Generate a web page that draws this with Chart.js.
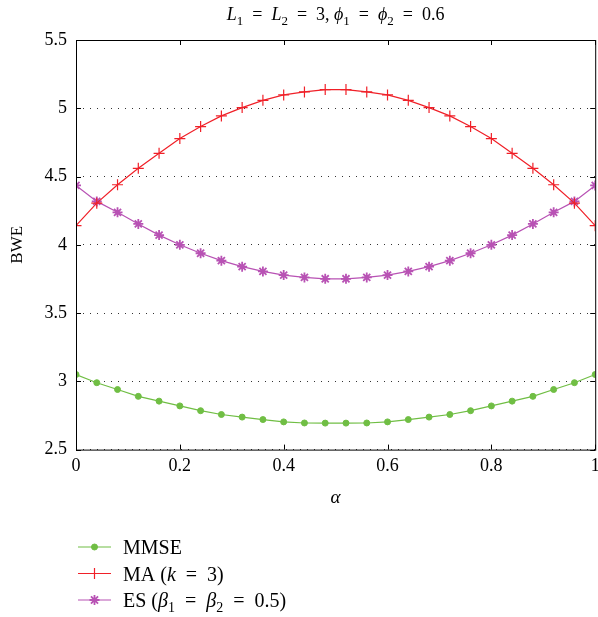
<!DOCTYPE html>
<html lang="en">
<head>
    <meta charset="UTF-8">
    <title>BWE vs alpha</title>
    <script src="https://cdn.jsdelivr.net/npm/chart.js"></script>
    <style>
        html, body { margin: 0; background: #fff; overflow: hidden; }
        #wrap { width: 602px; height: 617px; position: relative; }
    </style>
</head>
<body>
    <div id="wrap"><canvas id="bweChart"></canvas></div>

    <script>
        // alpha goes 0 .. 1 in steps of 0.04 (26 points)
        const alpha = [0, 0.04, 0.08, 0.12, 0.16, 0.2, 0.24, 0.28, 0.32, 0.36, 0.4, 0.44, 0.48,
                       0.52, 0.56, 0.6, 0.64, 0.68, 0.72, 0.76, 0.8, 0.84, 0.88, 0.92, 0.96, 1];
        const mmse = [3.05, 2.99, 2.94, 2.89, 2.855, 2.82, 2.785, 2.757, 2.738, 2.72, 2.703, 2.695, 2.694,
                      2.694, 2.695, 2.703, 2.72, 2.738, 2.757, 2.785, 2.82, 2.855, 2.89, 2.94, 2.99, 3.05];
        const ma = [4.14, 4.305, 4.44, 4.56, 4.67, 4.778, 4.866, 4.944, 5.005, 5.058, 5.098, 5.12, 5.137,
                    5.137, 5.12, 5.098, 5.058, 5.005, 4.944, 4.866, 4.778, 4.67, 4.56, 4.44, 4.305, 4.14];
        const es = [4.435, 4.318, 4.238, 4.153, 4.071, 4.0, 3.938, 3.884, 3.84, 3.805, 3.778, 3.761, 3.751,
                    3.751, 3.761, 3.778, 3.805, 3.84, 3.884, 3.938, 4.0, 4.071, 4.153, 4.238, 4.318, 4.435];
        const xTicks = [0, 0.2, 0.4, 0.6, 0.8, 1];
        const yTicks = [2.5, 3, 3.5, 4, 4.5, 5, 5.5];

        const GREEN = 'rgb(112,190,68)';
        const RED = 'rgb(240,32,40)';
        const PURPLE = 'rgb(184,82,180)';
        const SERIF = '"Liberation Serif", "DejaVu Serif", serif';

        const pts = vals => alpha.map((a, i) => ({ x: a, y: vals[i] }));

        // text pieces: { t, i: italic, s: subscript }
        function drawRich(ctx, parts, x, y, size, align) {
            const fontFor = p => (p.i ? 'italic ' : '') + (p.s ? Math.round(size * 0.7) : size) + 'px ' + SERIF;
            let total = 0;
            parts.forEach(p => { ctx.font = fontFor(p); total += ctx.measureText(p.t).width; });
            let cx = align === 'center' ? x - total / 2 : x;
            ctx.textBaseline = 'alphabetic';
            ctx.textAlign = 'left';
            parts.forEach(p => {
                ctx.font = fontFor(p);
                ctx.fillText(p.t, cx, y + (p.s ? size * 0.25 : 0));
                cx += ctx.measureText(p.t).width;
            });
        }

        const titleParts = [
            { t: 'L', i: true }, { t: '1', s: true }, { t: '  =  ' }, { t: 'L', i: true }, { t: '2', s: true },
            { t: '  =  3, ' }, { t: 'ϕ', i: true }, { t: '1', s: true }, { t: '  =  ' }, { t: 'ϕ', i: true },
            { t: '2', s: true }, { t: '  =  0.6' }
        ];
        const legendParts = [
            [{ t: 'MMSE' }],
            [{ t: 'MA (' }, { t: 'k', i: true }, { t: '  =  3)' }],
            [{ t: 'ES (' }, { t: 'β', i: true }, { t: '1', s: true }, { t: '  =  ' }, { t: 'β', i: true },
             { t: '2', s: true }, { t: '  =  0.5)' }]
        ];

        const framePlugin = {
            id: 'frame',
            afterDraw(chart) {
                const { ctx, chartArea: a, scales } = chart;
                ctx.save();
                // box
                ctx.strokeStyle = '#000';
                ctx.lineWidth = 1;
                ctx.strokeRect(a.left + 0.5, a.top + 0.5, a.right - a.left, a.bottom - a.top);
                // inward ticks
                ctx.beginPath();
                xTicks.forEach(v => {
                    const px = Math.round(scales.x.getPixelForValue(v)) + 0.5;
                    ctx.moveTo(px, a.bottom); ctx.lineTo(px, a.bottom - 5);
                    ctx.moveTo(px, a.top); ctx.lineTo(px, a.top + 5);
                });
                yTicks.forEach(v => {
                    const py = Math.round(scales.y.getPixelForValue(v)) + 0.5;
                    ctx.moveTo(a.left, py); ctx.lineTo(a.left + 5, py);
                    ctx.moveTo(a.right, py); ctx.lineTo(a.right - 5, py);
                });
                ctx.stroke();

                // title
                ctx.fillStyle = '#000';
                drawRich(ctx, titleParts, (a.left + a.right) / 2, 20, 18, 'center');

                // legend under the plot
                chart.data.datasets.forEach((ds, i) => {
                    const y = 547 + i * 26.5;
                    ctx.strokeStyle = ds.borderColor;
                    ctx.lineWidth = 1.2;
                    ctx.beginPath();
                    ctx.moveTo(78, y); ctx.lineTo(111, y);
                    ctx.stroke();
                    ctx.fillStyle = ds.pointBackgroundColor;
                    ctx.strokeStyle = ds.borderColor;
                    ctx.lineWidth = ds.pointBorderWidth || 1.2;
                    Chart.helpers.drawPoint(ctx, {
                        pointStyle: ds.pointStyle, radius: ds.pointRadius, borderWidth: ds.pointBorderWidth || 1.2
                    }, 94.5, y);
                    ctx.fillStyle = '#000';
                    drawRich(ctx, legendParts[i], 123, y + 7, 20, 'left');
                });
                ctx.restore();
            }
        };

        const commonDs = { borderWidth: 1.2, tension: 0, pointHoverRadius: 0 };

        new Chart(document.getElementById('bweChart'), {
            type: 'line',
            data: {
                datasets: [
                    { ...commonDs, label: 'MMSE', data: pts(mmse), borderColor: GREEN, backgroundColor: GREEN,
                      pointBackgroundColor: GREEN, pointBorderColor: GREEN, pointStyle: 'circle', pointRadius: 3, pointBorderWidth: 1 },
                    { ...commonDs, label: 'MA (k = 3)', data: pts(ma), borderColor: RED, backgroundColor: RED,
                      pointBackgroundColor: RED, pointBorderColor: RED, pointStyle: 'cross', pointRadius: 5.5, pointBorderWidth: 1.2 },
                    { ...commonDs, label: 'ES', data: pts(es), borderColor: PURPLE, backgroundColor: PURPLE,
                      pointBackgroundColor: PURPLE, pointBorderColor: PURPLE, pointStyle: 'star', pointRadius: 5, pointBorderWidth: 1.8 }
                ]
            },
            options: {
                responsive: true,
                maintainAspectRatio: false,
                animation: false,
                events: [],
                layout: { padding: { top: 40, right: 0, bottom: 104, left: 0 } },
                plugins: { legend: { display: false }, title: { display: false }, tooltip: { enabled: false } },
                scales: {
                    x: {
                        type: 'linear', min: 0, max: 1,
                        afterBuildTicks: s => { s.ticks = xTicks.map(v => ({ value: v })); },
                        afterFit: s => { s.paddingRight = 0; s.paddingLeft = 0; },
                        ticks: { color: '#000', font: { family: SERIF, size: 18 }, padding: 6,
                                 maxRotation: 0, callback: v => String(v) },
                        grid: { drawOnChartArea: false, drawTicks: false },
                        border: { display: false },
                        title: { display: true, text: 'α', color: '#000',
                                 font: { family: SERIF, size: 19, style: 'italic' }, padding: { top: 3 } }
                    },
                    y: {
                        min: 2.5, max: 5.5,
                        afterBuildTicks: s => { s.ticks = yTicks.map(v => ({ value: v })); },
                        afterFit: s => { s.width = 76; },
                        ticks: { color: '#000', font: { family: SERIF, size: 18 }, padding: 9,
                                 callback: v => String(v) },
                        grid: { color: '#333', lineWidth: 1, drawTicks: false },
                        border: { display: false, dash: [1, 6] },
                        title: { display: true, text: 'BWE', color: '#000',
                                 font: { family: SERIF, size: 17 }, padding: { top: 7, bottom: 0 } }
                    }
                }
            },
            plugins: [framePlugin]
        });
    </script>
</body>
</html>
